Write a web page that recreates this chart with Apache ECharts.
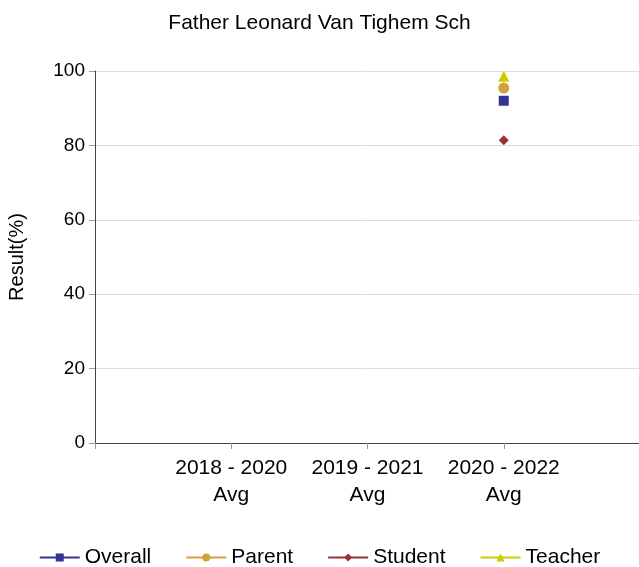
<!DOCTYPE html>
<html>
<head>
<meta charset="utf-8">
<script src="https://cdn.jsdelivr.net/npm/echarts@6/dist/echarts.min.js"></script>
<style>
	html, body { margin: 0; padding: 0; background: #fff; }
	#chart { width: 639px; height: 567px; }
</style>
</head>
<body>
<div id="chart"></div>
<script>
	// categories (empty ends pad the axis like the original)
	const categories = ['', '2018 - 2020\nAvg', '2019 - 2021\nAvg', '2020 - 2022\nAvg', '']
	const overall = [null, null, null, 92.0, null]
	const parent = [null, null, null, 95.4, null]
	const student = [null, null, null, 81.4, null]
	const teacher = [null, null, null, 98.6, null]

	const font = 'Liberation Sans, Arial, sans-serif'

	function line(name, data, color, symbol, size) {
		return {
			name: name,
			type: 'line',
			data: data,
			symbol: symbol,
			symbolSize: size,
			showAllSymbol: true,
			connectNulls: false,
			itemStyle: { color: color },
			lineStyle: { color: color, width: 1 }
		}
	}

	let myChart = echarts.init(document.getElementById('chart'))
	myChart.setOption({
		animation: false,
		title: {
			text: 'Father Leonard Van Tighem Sch',
			left: 'center',
			top: 8,
			textStyle: { fontFamily: font, fontSize: 21, fontWeight: 'normal', color: '#000' }
		},
		legend: {
			bottom: -6,
			left: 'center',
			itemGap: 34,
			itemWidth: 40,
			itemHeight: 10,
			textStyle: { fontFamily: font, fontSize: 21, color: '#000' },
			data: ['Overall', 'Parent', 'Student', 'Teacher']
		},
		grid: { left: 95, width: 545, top: 71, bottom: 124, containLabel: false, outerBoundsMode: 'none' },
		xAxis: {
			type: 'category',
			boundaryGap: false,
			data: categories,
			axisLine: { lineStyle: { color: '#444', width: 1 } },
			axisTick: { show: true, length: 6, lineStyle: { color: '#999' } },
			axisLabel: { fontFamily: font, fontSize: 21, color: '#000', margin: 12, lineHeight: 27, interval: 0 },
			splitLine: { show: false }
		},
		yAxis: {
			type: 'value',
			min: 0,
			max: 100,
			interval: 20,
			name: 'Result(%)',
			nameLocation: 'middle',
			nameGap: 68,
			nameTextStyle: { fontFamily: font, fontSize: 20, color: '#000' },
			axisLine: { show: true, lineStyle: { color: '#444', width: 1 } },
			axisTick: { show: true, length: 6, lineStyle: { color: '#999' } },
			axisLabel: { fontFamily: font, fontSize: 19, color: '#000', margin: 10 },
			splitLine: { lineStyle: { color: '#ddd', width: 1 } }
		},
		series: [
			line('Overall', overall, '#333399', 'rect', 10),
			line('Parent', parent, '#D4A03A', 'circle', 11),
			line('Student', student, '#993333', 'diamond', 10),
			line('Teacher', teacher, '#CCCC00', 'triangle', 11)
		]
	})
</script>
</body>
</html>
